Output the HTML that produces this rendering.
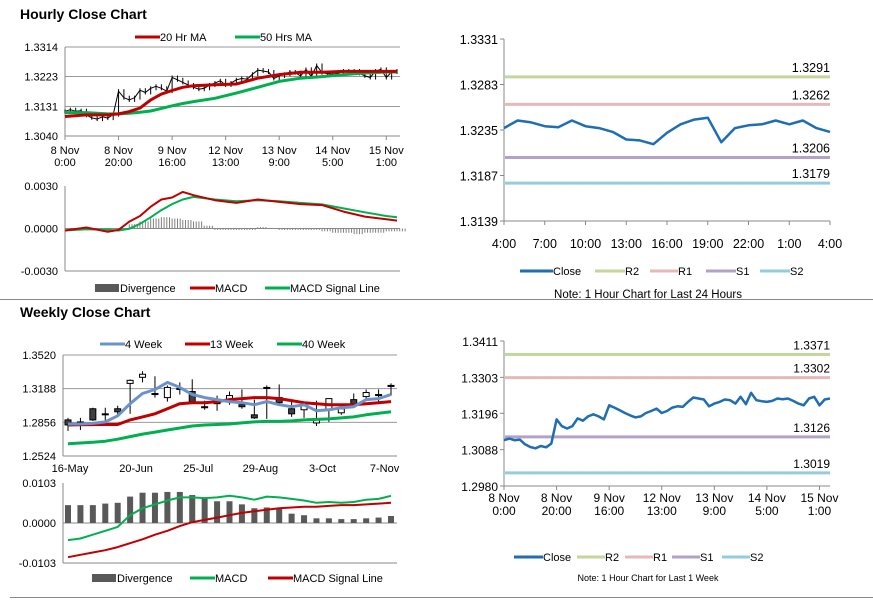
<!DOCTYPE html>
<html><head><meta charset="utf-8">
<style>
html,body{margin:0;padding:0;background:#fff;}
svg{display:block;font-family:"Liberation Sans",Arial,sans-serif;}
</style></head>
<body>
<svg id="c" width="873" height="601" viewBox="0 0 873 601">
<rect width="873" height="601" fill="#fff"/>
<text x="20" y="19" font-size="14" font-weight="bold">Hourly Close Chart</text>
<text x="20" y="317" font-size="14" font-weight="bold">Weekly Close Chart</text>
<line x1="0" y1="299.5" x2="873" y2="299.5" stroke="#888"/>
<line x1="10" y1="597.5" x2="873" y2="597.5" stroke="#888"/>
<g id="g"></g>
</svg>
<script>
// ---------- data ----------
const hourlyClose=[1.3116,1.3121,1.3116,1.3118,1.3104,1.3096,1.3092,1.3099,1.3095,1.3106,1.3178,1.3158,1.3151,1.3158,1.3181,1.3174,1.3187,1.3193,1.3187,1.3178,1.3220,1.3213,1.3205,1.3197,1.3190,1.3184,1.3187,1.3197,1.3203,1.3210,1.3197,1.3203,1.3213,1.3217,1.3215,1.3230,1.3243,1.3240,1.3237,1.3217,1.3225,1.3230,1.3237,1.3235,1.3225,1.3245,1.3223,1.3257,1.3235,1.3232,1.3230,1.3233,1.3240,1.3238,1.3240,1.3233,1.3225,1.3220,1.3240,1.3245,1.3220,1.3237,1.3240];
const maHours=[0,8,16,20,24,28,32,36,40,44,48,56,64,72,80,88,96,104,112,120,124];
const ma20=[1.3100,1.3105,1.3105,1.3108,1.3115,1.3126,1.3151,1.3169,1.3180,1.3190,1.3195,1.3198,1.3200,1.3218,1.3229,1.3236,1.3236,1.3239,1.3239,1.3239,1.3239];
const ma50=[1.3112,1.3112,1.3108,1.3108,1.3110,1.3113,1.3117,1.3125,1.3133,1.3140,1.3146,1.3156,1.3172,1.3190,1.3208,1.3218,1.3223,1.3229,1.3234,1.3237,1.3237];
const hMacd=[-0.00014,0.00007,-0.00023,-0.0001,0.00049,0.00088,0.00154,0.00205,0.00219,0.00258,0.00235,0.0020,0.00181,0.00205,0.00188,0.00172,0.00165,0.00119,0.00084,0.00065,0.00056];
const hSignal=[-0.00014,-0.00005,-0.0001,-0.00014,-0.00002,0.00033,0.00079,0.0013,0.00172,0.00205,0.00223,0.00205,0.00193,0.0020,0.00193,0.00181,0.0017,0.00142,0.00114,0.00088,0.00079];
const hDiv=[-0.00005,-0.00005,-0.00004,-0.00005,-0.00005,-0.00003,0.0003,0.0005,0.0007,0.0008,0.0007,0.0006,0.0005,0.0002,-0.0001,-0.0001,-0.0001,-0.0001,0.0001,0.0,-0.0001,-0.0001,-0.0001,-0.0001,-0.0002,-0.0003,-0.0003,-0.0004,-0.0003,-0.0003,-0.0002,-0.0002];
const hourLabels1=["8 Nov","8 Nov","9 Nov","12 Nov","13 Nov","14 Nov","15 Nov"];
const hourLabels2=["0:00","20:00","16:00","13:00","9:00","5:00","1:00"];
const dayClose=[1.3237,1.3245,1.3243,1.3239,1.3238,1.3245,1.3239,1.3237,1.3233,1.3225,1.3224,1.3220,1.3232,1.3241,1.3246,1.3248,1.3222,1.3237,1.3240,1.3241,1.3245,1.3241,1.3245,1.3237,1.3233];
const dayLabels=["4:00","7:00","10:00","13:00","16:00","19:00","22:00","1:00","4:00"];
const dayLevels=[1.3291,1.3262,1.3206,1.3179];
const weekLevels=[1.3371,1.3302,1.3126,1.3019];
const wOpen=[1.2880,1.2860,1.2990,1.2940,1.2990,1.3240,1.3300,1.3140,1.3100,1.3190,1.3160,1.3010,1.3050,1.3080,1.3030,1.2930,1.3200,1.3100,1.2990,1.2980,1.2850,1.2980,1.2950,1.3080,1.3110,1.3130,1.3220];
const wClose=[1.2830,1.2860,1.2880,1.2930,1.2960,1.3270,1.3330,1.3140,1.3200,1.3190,1.3060,1.3000,1.3040,1.3120,1.3010,1.2900,1.3200,1.3050,1.2940,1.3020,1.2880,1.3090,1.2990,1.3040,1.3150,1.3130,1.3220];
const wHigh=[1.2900,1.2900,1.3000,1.3000,1.3020,1.3280,1.3360,1.3310,1.3220,1.3250,1.3280,1.3070,1.3120,1.3160,1.3180,1.3080,1.3220,1.3230,1.3070,1.3060,1.3070,1.3090,1.3020,1.3140,1.3180,1.3180,1.3240];
const wLow=[1.2770,1.2780,1.2870,1.2870,1.2930,1.2940,1.3250,1.3100,1.3060,1.3130,1.3050,1.2980,1.2970,1.3030,1.2990,1.2890,1.2890,1.3020,1.2910,1.2900,1.2820,1.2860,1.2930,1.3020,1.3070,1.3060,1.3120];
const wMA4=[1.2840,1.2840,1.2845,1.2860,1.2920,1.3040,1.3140,1.3180,1.3250,1.3200,1.3130,1.3100,1.3080,1.3060,1.3050,1.3030,1.3060,1.3030,1.3010,1.3030,1.2970,1.2980,1.3000,1.3010,1.3080,1.3090,1.3130];
const wMA13=[1.2830,1.2832,1.2834,1.2835,1.2835,1.2880,1.2910,1.2940,1.2990,1.3040,1.3050,1.3050,1.3060,1.3080,1.3090,1.3100,1.3100,1.3090,1.3070,1.3050,1.3040,1.3030,1.3030,1.3030,1.3040,1.3050,1.3060];
const wMA40=[1.2645,1.2652,1.2660,1.2670,1.2690,1.2715,1.2740,1.2760,1.2780,1.2800,1.2820,1.2830,1.2835,1.2840,1.2850,1.2860,1.2865,1.2865,1.2870,1.2880,1.2885,1.2890,1.2900,1.2910,1.2930,1.2945,1.2960];
const wDiv=[0.0046,0.0046,0.0046,0.0050,0.0052,0.0068,0.0078,0.0078,0.0080,0.0080,0.0072,0.0066,0.0056,0.0056,0.0048,0.0038,0.0040,0.0036,0.0024,0.0020,0.0012,0.0012,0.0010,0.0010,0.0012,0.0014,0.0018];
const wMacd=[-0.0044,-0.0040,-0.0030,-0.0020,-0.0010,0.0020,0.0038,0.0048,0.0058,0.0066,0.0066,0.0064,0.0066,0.0070,0.0066,0.0060,0.0068,0.0066,0.0062,0.0058,0.0052,0.0054,0.0052,0.0054,0.0060,0.0062,0.0070];
const wSignal=[-0.0088,-0.0082,-0.0076,-0.0070,-0.0062,-0.0052,-0.0042,-0.0030,-0.0020,-0.0008,0.0002,0.0008,0.0014,0.0020,0.0026,0.0030,0.0034,0.0038,0.0040,0.0042,0.0042,0.0044,0.0046,0.0046,0.0048,0.0050,0.0052];
const weekLabels=["16-May","20-Jun","25-Jul","29-Aug","3-Oct","7-Nov"];
const weekLabelIdx=[0,5,10,15,20,25];

// ---------- helpers ----------
const NS="http://www.w3.org/2000/svg";
const G=document.getElementById('g');
function el(tag,attrs,parent){const e=document.createElementNS(NS,tag);for(const k in attrs)e.setAttribute(k,attrs[k]);(parent||G).appendChild(e);return e;}
function lin(d0,d1,r0,r1){return v=>r0+(v-d0)*(r1-r0)/(d1-d0);}
function txt(x,y,s,opt){const t=el('text',Object.assign({x:x,y:y,'font-size':11,fill:'#000'},opt||{}));t.textContent=s;return t;}
function poly(xs,ys,color,w,name){const p=el('polyline',{points:xs.map((x,i)=>x.toFixed(1)+','+ys[i].toFixed(1)).join(' '),fill:'none',stroke:color,'stroke-width':w,'stroke-linejoin':'round'});


return p;}
function legendLine(x,y,len,color,w,label,name){const l=el('line',{x1:x,y1:y,x2:x+len,y2:y,stroke:color,'stroke-width':w});


const t=txt(x+len,y+4,label);

}
function legendBox(x,y,label,name){const r=el('rect',{x:x,y:y-4,width:24,height:8,fill:'#595959'});


const t=txt(x+25,y+4,label);

}
function fmt(v,d){return v.toFixed(d);}

const RED='#c00000',GRN='#00b050',BLUE4='#6a93c9',CLOSE='#1f6db2';
const LVLC=['#c3d69b','#e6b9b8','#b3a2c7','#93cddd'];

// ---------- Hourly price (top-left) ----------
(function(){
 const x=lin(0,124,65,397), y=lin(1.3040,1.3314,136,47);
 const ticks=[1.3040,1.3131,1.3223,1.3314];
 ticks.forEach((t,i)=>{ if(i>0){const g=el('line',{x1:65,x2:400,y1:y(t),y2:y(t),stroke:'#999'});}
  const l=txt(58,y(t)+4,fmt(t,4),{'text-anchor':'end'});});
 el('line',{x1:65,x2:65,y1:47,y2:136,stroke:'#888'});
 el('line',{x1:65,x2:400,y1:136,y2:136,stroke:'#888'});
 hourLabels1.forEach((s,i)=>{const xx=x(i*20);el('line',{x1:xx,x2:xx,y1:136,y2:140,stroke:'#888'});
  const a=txt(xx,154,s,{'text-anchor':'middle'});
  const b=txt(xx,166,hourLabels2[i],{'text-anchor':'middle'});});
 hourlyClose.forEach((v,i)=>{const xx=x(i*2);const prev=i?hourlyClose[i-1]:v;
  const bar=el('line',{x1:xx,x2:xx,y1:y(Math.max(v,prev))-2,y2:y(Math.min(v,prev))+2,stroke:'#000','stroke-width':1});
  
  });
 poly(hourlyClose.map((v,i)=>x(i*2)),hourlyClose.map(y),'#000',1,'hourly-close-line');
 poly(maHours.map(x),ma50.map(y),GRN,3,'ma50-line');
 poly(maHours.map(x),ma20.map(y),RED,3,'ma20-line');
 legendLine(135,37,25,RED,3,'20 Hr MA','legend-ma20');
 legendLine(235,37,25,GRN,3,'50 Hrs MA','legend-ma50');
})();

// ---------- Hourly MACD ----------
(function(){
 const x=lin(0,124,65,397), y=lin(-0.003,0.003,271,186);
 [-0.003,0,0.003].forEach(t=>{const l=txt(58,y(t)+4,fmt(t,4),{'text-anchor':'end'});});
 el('line',{x1:65,x2:65,y1:186,y2:271,stroke:'#888'});
 el('line',{x1:65,x2:400,y1:y(0),y2:y(0),stroke:'#888'});
 el('line',{x1:65,x2:400,y1:271,y2:271,stroke:'#888'});
 hDiv.forEach((v,i)=>{const xx=x(i*4);for(let k=0;k<4;k++){const b=el('line',{x1:xx+k*2.7,x2:xx+k*2.7,y1:y(0),y2:y(v),stroke:'#7f7f7f','stroke-width':1});
  
  }});
 poly(maHours.map(x),hSignal.map(y),GRN,2,'hourly-signal-line');
 poly(maHours.map(x),hMacd.map(y),RED,2,'hourly-macd-line');
 legendBox(95,288,'Divergence','legend-hourly-divergence');
 legendLine(190,288,25,RED,3,'MACD','legend-hourly-macd');
 legendLine(265,288,25,GRN,3,'MACD Signal Line','legend-hourly-signal');
})();

// ---------- Right-side level charts ----------
function levelChart(cfg){
 const x=lin(0,cfg.n,cfg.x0,cfg.x1), y=lin(cfg.ymin,cfg.ymax,cfg.yb,cfg.yt);
 el('line',{x1:cfg.x0,x2:cfg.x0,y1:cfg.yt,y2:cfg.yb,stroke:'#888'});
 el('line',{x1:cfg.x0,x2:cfg.x1,y1:cfg.yb,y2:cfg.yb,stroke:'#888'});
 cfg.ticks.forEach(t=>{el('line',{x1:cfg.x0-4,x2:cfg.x0,y1:y(t),y2:y(t),stroke:'#888'});
  const l=txt(cfg.x0-6,y(t)+5,fmt(t,4),{'text-anchor':'end','font-size':cfg.fs});});
 cfg.xlab.forEach((s,i)=>{const xx=x(cfg.xstep*i);el('line',{x1:xx,x2:xx,y1:cfg.yb,y2:cfg.yb+4,stroke:'#888'});
  const a=txt(xx,cfg.yb+cfg.ly,s,{'text-anchor':'middle','font-size':cfg.fs});
  if(cfg.xlab2){const b=txt(xx,cfg.yb+cfg.ly+13,cfg.xlab2[i],{'text-anchor':'middle','font-size':cfg.fs});}});
 const lvName=['r2','r1','s1','s2'];
 cfg.levels.forEach((v,i)=>{const ln=el('line',{x1:cfg.x0+1,x2:cfg.x1,y1:y(v),y2:y(v),stroke:LVLC[i],'stroke-width':3});
  
  
  const t=txt(cfg.x1,y(v)-5,fmt(v,4),{'text-anchor':'end','font-size':cfg.fs});
  
  });
 poly(cfg.data.map((v,i)=>x(i*cfg.dstep)),cfg.data.map(y),CLOSE,2.5,cfg.name+'-close-line');
 const L=cfg.leg;
 legendLine(L[0],cfg.legY,L[1],CLOSE,3,'Close',cfg.name+'-legend-close');
 ['R2','R1','S1','S2'].forEach((s,i)=>legendLine(L[2+i*2],cfg.legY,L[3+i*2],LVLC[i],3,s,cfg.name+'-legend-'+s.toLowerCase()));
 const n=txt(648,cfg.noteY,cfg.note,{'text-anchor':'middle','font-size':cfg.nfs});
 
 
}
levelChart({name:'day',n:24,x0:504,x1:830,ymin:1.3139,ymax:1.3331,yb:221,yt:39,ticks:[1.3139,1.3187,1.3235,1.3283,1.3331],
 xlab:dayLabels,xstep:3,ly:27,fs:12.5,levels:dayLevels,data:dayClose,dstep:1,legY:271,leg:[520,33,595,30,650,28,706,30,760,30],
 noteY:298,note:'Note: 1 Hour Chart for Last 24 Hours',nfs:11.5});
levelChart({name:'week',n:124,x0:504,x1:830,ymin:1.2980,ymax:1.3411,yb:486,yt:341,ticks:[1.2980,1.3088,1.3196,1.3303,1.3411],
 xlab:hourLabels1,xlab2:hourLabels2,xstep:20,ly:16,fs:12,levels:weekLevels,data:hourlyClose,dstep:2,legY:557,leg:[514,29,577,28,625,28,672,28,722,28],
 noteY:581,note:'Note: 1 Hour Chart for  Last 1 Week',nfs:9});

// ---------- Weekly price ----------
(function(){
 const n=wClose.length;
 const x=i=>68+i*(391-68)/(n-1), y=lin(1.2524,1.3520,456,355);
 [1.2524,1.2856,1.3188,1.3520].forEach((t,i)=>{ if(i>0){const g=el('line',{x1:63,x2:397,y1:y(t),y2:y(t),stroke:'#999'});}
  const l=txt(56,y(t)+4,fmt(t,4),{'text-anchor':'end'});});
 el('line',{x1:63,x2:63,y1:355,y2:456,stroke:'#888'});
 el('line',{x1:63,x2:397,y1:456,y2:456,stroke:'#888'});
 weekLabelIdx.forEach((ix,k)=>{const xx=k==0?70:x(ix)+6;const a=txt(xx,472,weekLabels[k],{'text-anchor':'middle'});});
 for(let i=0;i<n;i++){const xx=x(i);
  const w=el('line',{x1:xx,x2:xx,y1:y(wHigh[i]),y2:y(wLow[i]),stroke:'#000'});
  
  
  const top=y(Math.max(wOpen[i],wClose[i])),bot=y(Math.min(wOpen[i],wClose[i]));
  const b=el('rect',{x:xx-3,y:top,width:6,height:Math.max(1,bot-top),fill:wOpen[i]>wClose[i]?'#404040':'#fff',stroke:'#000','stroke-width':1});
  
  }
 const xs=wClose.map((v,i)=>x(i));
 poly(xs,wMA40.map(y),GRN,3,'ma40w-line');
 poly(xs,wMA13.map(y),RED,3,'ma13w-line');
 poly(xs,wMA4.map(y),BLUE4,3,'ma4w-line');
 legendLine(100,344,25,BLUE4,3,'4 Week','legend-4week');
 legendLine(185,344,25,RED,3,'13 Week','legend-13week');
 legendLine(277,344,25,GRN,3,'40 Week','legend-40week');
})();

// ---------- Weekly MACD ----------
(function(){
 const n=wDiv.length;
 const x=i=>68+i*(391-68)/(n-1), y=lin(-0.0103,0.0103,563,483);
 [-0.0103,0,0.0103].forEach(t=>{const l=txt(56,y(t)+4,fmt(t,4),{'text-anchor':'end'});});
 el('line',{x1:63,x2:63,y1:483,y2:563,stroke:'#888'});
 el('line',{x1:63,x2:397,y1:y(0),y2:y(0),stroke:'#888'});
 el('line',{x1:63,x2:397,y1:563,y2:563,stroke:'#888'});
 wDiv.forEach((v,i)=>{const b=el('rect',{x:x(i)-3,y:Math.min(y(v),y(0)),width:6,height:Math.abs(y(v)-y(0)),fill:'#595959'});
  
  });
 const xs=wDiv.map((v,i)=>x(i));
 poly(xs,wMacd.map(y),GRN,2,'weekly-macd-line');
 poly(xs,wSignal.map(y),RED,2,'weekly-signal-line');
 legendBox(92,578,'Divergence','legend-weekly-divergence');
 legendLine(190,578,25,GRN,3,'MACD','legend-weekly-macd');
 legendLine(268,578,25,RED,3,'MACD Signal Line','legend-weekly-signal');
})();
</script>
</body></html>
